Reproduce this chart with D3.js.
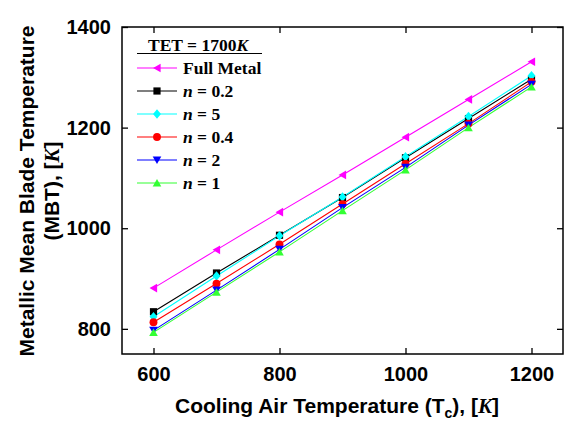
<!DOCTYPE html>
<html>
<head>
<meta charset="utf-8">
<script src="https://cdn.jsdelivr.net/npm/d3@7"></script>
<style>
  html, body { margin: 0; padding: 0; background: #fff; }
  svg { display: block; }
</style>
</head>
<body>
<svg id="chart" width="568" height="423"></svg>
<script>
// Cooling air temperatures (K)
const coolingTemps = [600, 700, 800, 900, 1000, 1100, 1200];

// Metallic mean blade temperature (K) for each material case
const fullMetal = [881, 957, 1032, 1106, 1181, 1256, 1331];
const n02 = [834, 911, 986, 1061, 1140, 1218, 1296];
const n5 = [824, 905, 985, 1062, 1142, 1222, 1303];
const n04 = [813, 890, 968, 1048, 1128, 1208, 1291];
const n2 = [797, 877, 958, 1041, 1121, 1205, 1286];
const n1 = [793, 873, 953, 1035, 1116, 1200, 1281];

const xTicks = [600, 800, 1000, 1200];
const yTicks = [800, 1000, 1200, 1400];

const series = [
  { name: "Full Metal", n: null, values: fullMetal, color: "#ff00ff", symbol: "triLeft" },
  { name: "0.2", n: true, values: n02, color: "#000000", symbol: "square" },
  { name: "5", n: true, values: n5, color: "#00ffff", symbol: "diamond" },
  { name: "0.4", n: true, values: n04, color: "#ff0000", symbol: "circle" },
  { name: "2", n: true, values: n2, color: "#0000ff", symbol: "triDown" },
  { name: "1", n: true, values: n1, color: "#33ff33", symbol: "triUp" }
];

const svg = d3.select("#chart");
const margin = { left: 122, right: 5, top: 27, bottom: 69 };
const W = 568, H = 423;
const iw = W - margin.left - margin.right;
const ih = H - margin.top - margin.bottom;

const x = d3.scaleLinear().domain([550, 1250]).range([margin.left, margin.left + iw]);
const y = d3.scaleLinear().domain([750, 1400]).range([margin.top + ih, margin.top]);

function markerPath(type, s) {
  switch (type) {
    case "square": return `M${-s},${-s}h${2*s}v${2*s}h${-2*s}z`;
    case "diamond": return `M0,${-s*1.3}L${s*1.1},0L0,${s*1.3}L${-s*1.1},0z`;
    case "circle": return d3.symbol(d3.symbolCircle, Math.PI * s * s * 1.2)();
    case "triDown": return `M${-s*1.2},${-s}L${s*1.2},${-s}L0,${s*1.1}z`;
    case "triUp": return `M${-s*1.2},${s}L${s*1.2},${s}L0,${-s*1.1}z`;
    case "triLeft": return `M${s},${-s*1.2}L${s},${s*1.2}L${-s*1.1},0z`;
  }
}

// Axes (inward ticks, mirrored on top and right)
const tickFont = "bold 20px 'Liberation Sans', Arial, sans-serif";
const xAxis = svg.append("g").attr("transform", `translate(0,${margin.top + ih})`)
  .call(d3.axisBottom(x).tickValues(xTicks).tickSize(-6).tickPadding(13).tickFormat(d3.format("d")));
const xAxisTop = svg.append("g").attr("transform", `translate(0,${margin.top})`)
  .call(d3.axisTop(x).tickValues(xTicks).tickSize(-6).tickFormat(""));
const yAxis = svg.append("g").attr("transform", `translate(${margin.left},0)`)
  .call(d3.axisLeft(y).tickValues(yTicks).tickSize(-6).tickPadding(11).tickFormat(d3.format("d")));
const yAxisRight = svg.append("g").attr("transform", `translate(${margin.left + iw},0)`)
  .call(d3.axisRight(y).tickValues(yTicks).tickSize(-6).tickFormat(""));

[xAxis, xAxisTop, yAxis, yAxisRight].forEach(g => {
  g.select(".domain").remove();
  g.selectAll(".tick line").attr("stroke", "#000").attr("stroke-width", 1.3);
  g.selectAll(".tick text").style("font", tickFont).attr("fill", "#000");
});

// Frame
svg.append("rect")
  .attr("x", margin.left).attr("y", margin.top)
  .attr("width", iw).attr("height", ih)
  .attr("fill", "none").attr("stroke", "#000").attr("stroke-width", 1.5);

// Series lines and markers
const line = d3.line().x((d, i) => x(coolingTemps[i])).y(d => y(d));
series.forEach(s => {
  svg.append("path").datum(s.values)
    .attr("d", line).attr("fill", "none")
    .attr("stroke", s.color).attr("stroke-width", 1.1);
});
series.forEach(s => {
  svg.append("g").selectAll("path").data(s.values).join("path")
    .attr("transform", (d, i) => `translate(${x(coolingTemps[i])},${y(d)})`)
    .attr("d", markerPath(s.symbol, 3.6))
    .attr("fill", s.color);
});

// Legend
const lg = svg.append("g");
const serif = "'Liberation Serif', 'Times New Roman', serif";
const title = lg.append("text").attr("x", 148).attr("y", 51)
  .style("font", `bold 17.5px ${serif}`).attr("fill", "#000");
title.append("tspan").text("TET = 1700");
title.append("tspan").style("font-style", "italic").text("K");
lg.append("line").attr("x1", 137).attr("x2", 262).attr("y1", 53.5).attr("y2", 53.5)
  .attr("stroke", "#000").attr("stroke-width", 1.2);

series.forEach((s, i) => {
  const cy = 68 + i * 23;
  lg.append("line").attr("x1", 137).attr("x2", 177).attr("y1", cy).attr("y2", cy)
    .attr("stroke", s.color).attr("stroke-width", 1.1);
  lg.append("path").attr("transform", `translate(157,${cy})`)
    .attr("d", markerPath(s.symbol, 3.6)).attr("fill", s.color);
  const t = lg.append("text").attr("x", 183).attr("y", cy + 6)
    .style("font", `bold 17.5px ${serif}`).attr("fill", "#000");
  if (s.n) {
    t.append("tspan").style("font-style", "italic").text("n");
    t.append("tspan").text(" = " + s.name);
  } else {
    t.text(s.name);
  }
});

// Axis titles
const sans = "'Liberation Sans', Arial, sans-serif";
const xl = svg.append("text").attr("x", 337).attr("y", 413)
  .attr("text-anchor", "middle").style("font", `bold 21px ${sans}`).attr("fill", "#000");
xl.append("tspan").text("Cooling Air Temperature (T");
xl.append("tspan").attr("dy", 5).style("font-size", "14px").text("c");
xl.append("tspan").attr("dy", -5).text("), [");
xl.append("tspan").style("font", `italic bold 21px ${serif}`).text("K");
xl.append("tspan").text("]");

const yl = svg.append("g").attr("transform", "translate(34,191) rotate(-90)");
yl.append("text").attr("x", 0).attr("y", 0).attr("text-anchor", "middle")
  .style("font", `bold 21px ${sans}`).attr("fill", "#000")
  .text("Metallic Mean Blade Temperature");
const yl2 = yl.append("text").attr("x", 0).attr("y", 25).attr("text-anchor", "middle")
  .style("font", `bold 21px ${sans}`).attr("fill", "#000");
yl2.append("tspan").text("(MBT), [");
yl2.append("tspan").style("font", `italic bold 21px ${serif}`).text("K");
yl2.append("tspan").text("]");
</script>
</body>
</html>
